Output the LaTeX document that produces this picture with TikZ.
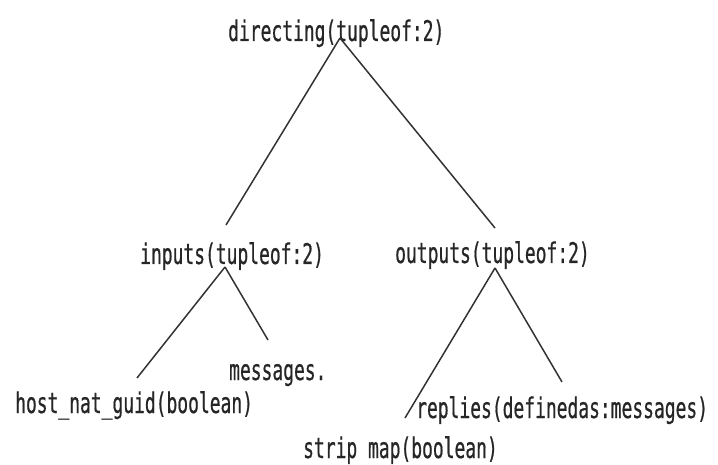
\documentclass[tikz,border=0pt]{standalone}
\usepackage{fontspec}
\newfontfamily\scanmono[FakeStretch=0.63, FakeBold=0.6]{DejaVu Sans Mono}
\usetikzlibrary{calc, positioning}

\begin{document}
\begin{tikzpicture}[x = 1pt, y = -1pt,
  lbl/.style = {inner sep = 0pt, anchor = base west, text = black!85,
    font = \scanmono\fontsize{28.5}{28.5}\selectfont},
  edge/.style = {line width = 1.5pt, draw = black!80}]
\useasboundingbox (0,0) rectangle (718,465);
\node[lbl] (dir) at (228,41) {directing(tupleof:2)};
\node[lbl] (inp) at (140,264) {inputs(tupleof:2)};
\node[lbl] (outp) at (395,263) {outputs(tupleof:2)};
\node[lbl] (msg) at (229,380) {messages.};
\node[lbl] (host) at (15,413) {host\_nat\_guid(boolean)};
\node[lbl] (repl) at (416,418) {replies(definedas:messages)};
\node[lbl] (strip) at (303,458) {strip map(boolean)};
% tops of the fork lines, at the t of tupleof
\coordinate (dirT) at ($(dir.base west)+(112,-3)$);
\coordinate (inpT) at ($(inp.base west)+(85,3)$);
\coordinate (outpT) at ($(outp.base west)+(100,5)$);
% lower free ends
\coordinate (inpE) at (226,225);
\coordinate (outpE) at (495,228);
\coordinate (hostE) at (137,378);
\coordinate (msgE) at (268,340);
\coordinate (stripE) at (405,418);
\coordinate (replE) at (562,382);
\foreach \i/\j in {dirT/inpE, dirT/outpE, inpT/hostE, inpT/msgE,
  outpT/stripE, outpT/replE}{
\draw[edge] (\i) -- (\j);
}
\end{tikzpicture}
\end{document}
